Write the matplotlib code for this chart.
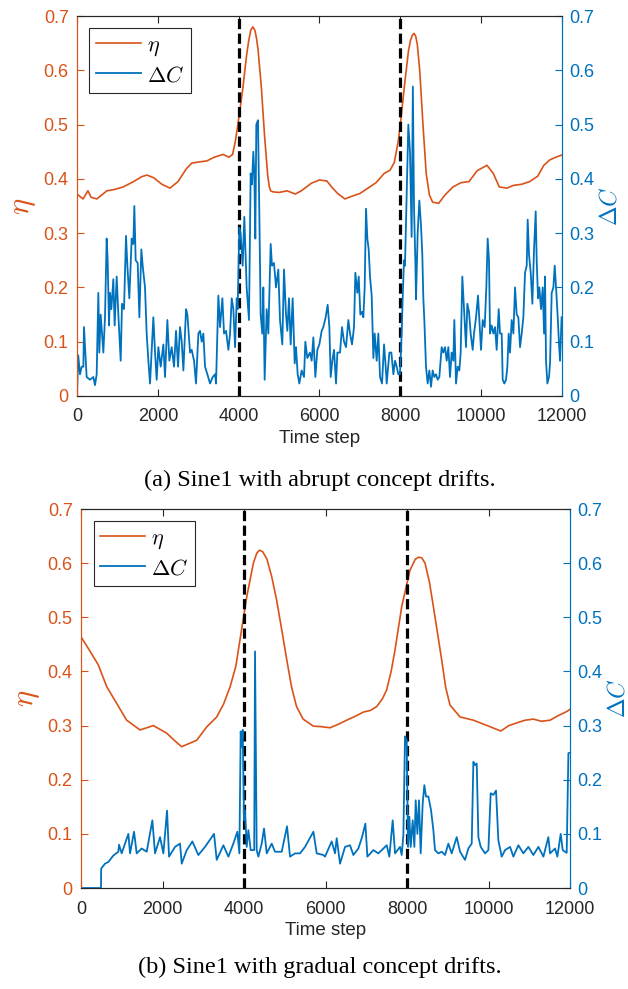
import numpy as np
import matplotlib
matplotlib.use("Agg")
import matplotlib.pyplot as plt
from matplotlib.lines import Line2D

plt.rcParams['font.family'] = 'Liberation Sans'
plt.rcParams['mathtext.fontset'] = 'cm'

# ---------------------------------------------------------------
# data
# ---------------------------------------------------------------
drifts = [4000, 8000]
xticks = [0, 2000, 4000, 6000, 8000, 10000, 12000]
yticks = [0, 0.1, 0.2, 0.3, 0.4, 0.5, 0.6, 0.7]
ytick_labels = ["0", "0.1", "0.2", "0.3", "0.4", "0.5", "0.6", "0.7"]

# (a) abrupt drifts
t_eta_a = [0, 150, 270, 350, 490, 740, 900, 1140, 1400, 1600, 1730, 1900, 2100, 2300, 2500,
           2700, 2840, 3000, 3210, 3400, 3610, 3760, 3850, 3920, 4000, 4100, 4200, 4250, 4300,
           4350, 4400, 4440, 4480, 4560, 4640, 4720, 4760, 4790, 4850, 5000, 5200, 5400, 5550,
           5800, 6000, 6185, 6300, 6450, 6630, 6800, 7000, 7200, 7400, 7600, 7745, 7850, 7950,
           8000, 8100, 8200, 8250, 8300, 8340, 8380, 8420, 8480, 8560, 8640, 8720, 8800, 8950,
           9100, 9300, 9500, 9700, 9900, 10144, 10300, 10450, 10640, 10800, 11000, 11200,
           11400, 11550, 11700, 11850, 12000]
eta_a = [0.372, 0.363, 0.378, 0.366, 0.363, 0.378, 0.380, 0.385, 0.395, 0.404, 0.407, 0.402,
         0.390, 0.383, 0.395, 0.418, 0.429, 0.431, 0.433, 0.440, 0.445, 0.440, 0.445, 0.470,
         0.510, 0.565, 0.630, 0.655, 0.674, 0.680, 0.674, 0.660, 0.638, 0.570, 0.480, 0.405,
         0.385, 0.378, 0.376, 0.375, 0.378, 0.372, 0.378, 0.392, 0.398, 0.396, 0.385, 0.373,
         0.363, 0.368, 0.373, 0.383, 0.393, 0.410, 0.416, 0.430, 0.470, 0.500, 0.570, 0.635,
         0.655, 0.665, 0.668, 0.663, 0.648, 0.600, 0.500, 0.410, 0.370, 0.357, 0.355, 0.370,
         0.385, 0.393, 0.395, 0.415, 0.425, 0.410, 0.385, 0.383, 0.388, 0.390, 0.395, 0.405,
         0.425, 0.435, 0.440, 0.444]

t_dc_a = [0, 30, 74, 116, 157, 173, 239, 322, 404, 445, 487, 528, 553, 586, 619, 652, 693,
          734, 759, 792, 817, 850, 899, 932, 982, 1023, 1081, 1114, 1163, 1213, 1246, 1295,
          1353, 1394, 1419, 1452, 1502, 1543, 1592, 1625, 1683, 1724, 1766, 1807, 1889, 1931,
          1972, 2013, 2071, 2137, 2178, 2236, 2285, 2343, 2401, 2450, 2500, 2549, 2591, 2632,
          2698, 2731, 2797, 2838, 2896, 2945, 3003, 3044, 3086, 3127, 3168, 3226, 3292, 3358,
          3416, 3440, 3498, 3539, 3597, 3638, 3688, 3746, 3787, 3828, 3869, 3911, 3952, 3975,
          4016, 4049, 4099, 4140, 4198, 4255, 4297, 4330, 4363, 4387, 4412, 4437, 4478, 4511,
          4544, 4585, 4610, 4643, 4693, 4734, 4792, 4825, 4874, 4924, 4981, 5023, 5080, 5122,
          5171, 5204, 5245, 5287, 5336, 5386, 5419, 5460, 5501, 5559, 5617, 5650, 5699, 5765,
          5806, 5848, 5897, 5947, 5996, 6054, 6095, 6153, 6202, 6244, 6277, 6318, 6359, 6409,
          6442, 6508, 6557, 6607, 6656, 6714, 6755, 6805, 6854, 6887, 6937, 6970, 7011, 7052,
          7085, 7118, 7151, 7184, 7217, 7250, 7291, 7333, 7366, 7415, 7456, 7498, 7547, 7597,
          7638, 7663, 7729, 7778, 7828, 7869, 7910, 7951, 7990, 8033, 8058, 8091, 8115, 8157,
          8198, 8239, 8280, 8310, 8338, 8371, 8388, 8429, 8470, 8511, 8544, 8569, 8594, 8635,
          8676, 8718, 8759, 8800, 8841, 8883, 8924, 8965, 9023, 9064, 9105, 9147, 9188, 9229,
          9270, 9312, 9336, 9378, 9419, 9460, 9493, 9534, 9576, 9625, 9658, 9699, 9741, 9790,
          9823, 9873, 9922, 9955, 9996, 10038, 10087, 10128, 10161, 10194, 10219, 10260, 10302,
          10343, 10384, 10434, 10467, 10508, 10533, 10574, 10615, 10648, 10681, 10714, 10755,
          10797, 10838, 10879, 10920, 10962, 11003, 11044, 11085, 11127, 11151, 11184, 11226,
          11267, 11308, 11349, 11374, 11407, 11440, 11481, 11523, 11556, 11580, 11605, 11638,
          11679, 11704, 11745, 11787, 11820, 11853, 11894, 11927, 11952, 11990]
dc_a = [0.0, 0.075, 0.040, 0.054, 0.054, 0.127, 0.035, 0.030, 0.035, 0.020, 0.040, 0.190,
        0.080, 0.150, 0.115, 0.080, 0.145, 0.290, 0.250, 0.130, 0.190, 0.160, 0.215, 0.130,
        0.220, 0.150, 0.065, 0.170, 0.160, 0.295, 0.240, 0.180, 0.290, 0.280, 0.350, 0.250,
        0.245, 0.145, 0.270, 0.240, 0.200, 0.115, 0.065, 0.023, 0.145, 0.080, 0.030, 0.090,
        0.054, 0.095, 0.035, 0.140, 0.065, 0.090, 0.054, 0.120, 0.054, 0.127, 0.100, 0.047,
        0.160, 0.150, 0.080, 0.085, 0.065, 0.023, 0.115, 0.120, 0.100, 0.115, 0.054, 0.040,
        0.023, 0.035, 0.040, 0.023, 0.185, 0.127, 0.180, 0.115, 0.120, 0.085, 0.115, 0.180,
        0.160, 0.090, 0.180, 0.160, 0.310, 0.300, 0.240, 0.330, 0.200, 0.140, 0.410, 0.390,
        0.450, 0.410, 0.290, 0.500, 0.508, 0.340, 0.150, 0.115, 0.200, 0.030, 0.160, 0.115,
        0.280, 0.240, 0.245, 0.200, 0.233, 0.140, 0.095, 0.233, 0.150, 0.120, 0.180, 0.095,
        0.180, 0.060, 0.090, 0.040, 0.023, 0.047, 0.035, 0.100, 0.070, 0.080, 0.065, 0.108,
        0.035, 0.085, 0.095, 0.120, 0.127, 0.145, 0.168, 0.127, 0.035, 0.065, 0.085, 0.023,
        0.080, 0.080, 0.127, 0.100, 0.090, 0.140, 0.115, 0.095, 0.127, 0.227, 0.190, 0.220,
        0.150, 0.155, 0.145, 0.200, 0.345, 0.290, 0.270, 0.220, 0.185, 0.070, 0.115, 0.065,
        0.115, 0.035, 0.023, 0.095, 0.054, 0.023, 0.080, 0.080, 0.040, 0.065, 0.054, 0.040,
        0.040, 0.115, 0.180, 0.250, 0.240, 0.370, 0.500, 0.450, 0.293, 0.570, 0.350, 0.250,
        0.178, 0.300, 0.360, 0.315, 0.260, 0.180, 0.140, 0.054, 0.023, 0.047, 0.017, 0.047,
        0.035, 0.040, 0.030, 0.035, 0.090, 0.080, 0.090, 0.065, 0.090, 0.035, 0.080, 0.065,
        0.140, 0.023, 0.054, 0.047, 0.080, 0.220, 0.160, 0.090, 0.170, 0.155, 0.115, 0.085,
        0.115, 0.145, 0.185, 0.140, 0.085, 0.140, 0.127, 0.200, 0.290, 0.250, 0.115, 0.130,
        0.115, 0.127, 0.085, 0.160, 0.115, 0.115, 0.030, 0.023, 0.030, 0.054, 0.115, 0.080,
        0.140, 0.115, 0.200, 0.150, 0.145, 0.090, 0.115, 0.145, 0.227, 0.240, 0.325, 0.260,
        0.227, 0.170, 0.270, 0.340, 0.250, 0.180, 0.200, 0.160, 0.200, 0.115, 0.220, 0.065,
        0.023, 0.035, 0.060, 0.190, 0.200, 0.240, 0.200, 0.145, 0.095, 0.065, 0.145]

# (b) gradual drifts
t_eta_b = [0, 200, 425, 630, 875, 1120, 1448, 1776, 2104, 2300, 2470, 2840, 3090, 3330, 3500,
           3660, 3800, 3900, 4067, 4230, 4310, 4378, 4460, 4560, 4680, 4800, 4930, 5050, 5170,
           5290, 5450, 5701, 5900, 6110, 6300, 6519, 6750, 6928, 7100, 7255, 7400, 7500, 7610,
           7706, 7870, 8073, 8200, 8278, 8360, 8442, 8550, 8646, 8750, 8851, 8950, 9055, 9300,
           9628, 10037, 10300, 10500, 10691, 10900, 11100, 11300, 11509, 11700, 11918, 12000]
eta_b = [0.464, 0.440, 0.412, 0.372, 0.341, 0.310, 0.292, 0.300, 0.286, 0.272, 0.261, 0.273,
         0.298, 0.316, 0.340, 0.372, 0.410, 0.458, 0.538, 0.600, 0.618, 0.624, 0.621, 0.608,
         0.575, 0.532, 0.475, 0.421, 0.370, 0.335, 0.312, 0.299, 0.298, 0.296, 0.302, 0.310,
         0.318, 0.325, 0.328, 0.335, 0.350, 0.366, 0.400, 0.440, 0.520, 0.587, 0.607, 0.611,
         0.610, 0.600, 0.565, 0.520, 0.470, 0.421, 0.370, 0.338, 0.316, 0.310, 0.298, 0.290,
         0.300, 0.305, 0.310, 0.312, 0.308, 0.310, 0.318, 0.326, 0.330]

t_dc_b = [0, 490, 495, 589, 670, 793, 916, 933, 998, 1162, 1203, 1301, 1366, 1489, 1612, 1751,
          1816, 1939, 2021, 2111, 2160, 2307, 2430, 2471, 2594, 2732, 2880, 3043, 3264, 3330,
          3493, 3616, 3738, 3836, 3886, 3918, 3943, 3967, 4000, 4025, 4066, 4107, 4164, 4213,
          4250, 4270, 4311, 4352, 4434, 4491, 4557, 4680, 4761, 4925, 5055, 5129, 5252, 5375,
          5497, 5702, 5784, 5947, 5988, 6151, 6233, 6274, 6356, 6479, 6601, 6683, 6806, 6896,
          6978, 7027, 7174, 7297, 7419, 7501, 7566, 7648, 7706, 7828, 7869, 7910, 7951, 7992,
          8025, 8057, 8090, 8139, 8180, 8213, 8254, 8294, 8335, 8384, 8425, 8466, 8524, 8589,
          8646, 8687, 8769, 8851, 8933, 9014, 9096, 9219, 9301, 9423, 9505, 9587, 9628, 9669,
          9710, 9751, 9808, 9914, 9996, 10053, 10119, 10184, 10241, 10323, 10405, 10528, 10610,
          10732, 10855, 10978, 11101, 11223, 11346, 11468, 11509, 11632, 11689, 11771, 11820,
          11877, 11918, 11960, 12000]
dc_b = [0.0, 0.0, 0.036, 0.045, 0.048, 0.060, 0.067, 0.080, 0.064, 0.100, 0.064, 0.104, 0.064,
        0.073, 0.067, 0.125, 0.064, 0.094, 0.064, 0.143, 0.058, 0.076, 0.082, 0.045, 0.070,
        0.086, 0.061, 0.076, 0.100, 0.052, 0.079, 0.058, 0.082, 0.104, 0.064, 0.289, 0.261,
        0.292, 0.125, 0.143, 0.076, 0.107, 0.070, 0.070, 0.070, 0.437, 0.070, 0.058, 0.082,
        0.110, 0.064, 0.082, 0.067, 0.067, 0.114, 0.058, 0.064, 0.064, 0.076, 0.104, 0.064,
        0.061, 0.058, 0.086, 0.064, 0.092, 0.045, 0.076, 0.079, 0.061, 0.073, 0.094, 0.119,
        0.058, 0.070, 0.064, 0.073, 0.079, 0.058, 0.125, 0.064, 0.076, 0.061, 0.098, 0.280,
        0.273, 0.076, 0.132, 0.076, 0.125, 0.076, 0.162, 0.100, 0.162, 0.064, 0.156, 0.190,
        0.169, 0.169, 0.144, 0.107, 0.070, 0.064, 0.067, 0.061, 0.082, 0.064, 0.094, 0.067,
        0.052, 0.073, 0.082, 0.233, 0.227, 0.230, 0.094, 0.076, 0.064, 0.070, 0.175, 0.172,
        0.180, 0.088, 0.058, 0.070, 0.076, 0.058, 0.079, 0.064, 0.076, 0.061, 0.076, 0.058,
        0.094, 0.064, 0.073, 0.058, 0.100, 0.070, 0.067, 0.065, 0.249, 0.250]

captions = ["(a) Sine1 with abrupt concept drifts.", "(b) Sine1 with gradual concept drifts."]

# ---------------------------------------------------------------
c_eta = '#D95319'
c_dc = '#0072BD'
c_ax = '#262626'

fig = plt.figure(figsize=(6.28, 9.89), dpi=100)

panels = [
    ([0.1226, 0.5996, 0.7723, 0.3842], t_eta_a, eta_a, t_dc_a, dc_a, 0.5145),
    ([0.1290, 0.1021, 0.7787, 0.3832], t_eta_b, eta_b, t_dc_b, dc_b, 0.0215),
]

for i, (rect, te, eta, tc, dc, cap_y) in enumerate(panels):
    ax1 = fig.add_axes(rect)
    ax2 = ax1.twinx()

    ax1.plot(te, eta, color=c_eta, lw=1.2)
    ax2.plot(tc, dc, color=c_dc, lw=1.3)
    for d in drifts:
        ax1.axvline(d, color='black', lw=2.3, dashes=(3.2, 1.4))

    for ax in (ax1, ax2):
        ax.set_xlim(0, 12000)
        ax.set_ylim(0, 0.7)
        ax.set_yticks(yticks)
        ax.set_yticklabels(ytick_labels)
        ax.tick_params(direction='in', length=5, width=0.8, labelsize=13)
    ax1.set_xticks(xticks)
    ax1.tick_params(axis='x', top=True, colors=c_ax, labelcolor=c_ax, pad=9)
    ax1.tick_params(axis='y', colors=c_eta, labelcolor=c_eta, pad=6)
    ax2.tick_params(axis='y', colors=c_dc, labelcolor=c_dc, pad=5)

    for sp in ('top', 'bottom'):
        ax1.spines[sp].set_color(c_ax)
        ax2.spines[sp].set_color(c_ax)
    ax1.spines['left'].set_color(c_eta)
    ax2.spines['left'].set_color(c_eta)
    ax2.spines['right'].set_color(c_dc)
    ax1.spines['right'].set_color(c_dc)

    ax1.set_xlabel('Time step', fontsize=13.5, color=c_ax, labelpad=3)
    ax1.set_ylabel(r'$\eta$', fontsize=22, color=c_eta, labelpad=4)
    ax2.set_ylabel(r'$\Delta C$', fontsize=17, color=c_dc, labelpad=4)

    handles = [Line2D([], [], color=c_eta, lw=1.2), Line2D([], [], color=c_dc, lw=1.3)]
    leg = ax2.legend(handles, [r'$\eta$', r'$\Delta C$'], loc='upper left',
                     bbox_to_anchor=(0.012, 0.985), fontsize=16, fancybox=False,
                     framealpha=1, edgecolor=c_ax, handlelength=2.0, handletextpad=0.3,
                     borderpad=0.3, labelspacing=0.3, borderaxespad=0.3)
    leg.get_frame().set_linewidth(0.8)

    fig.text(0.51, cap_y, captions[i], ha='center', va='center', fontsize=17.5,
             family='Liberation Serif')

fig.savefig('out.png', dpi=100)
